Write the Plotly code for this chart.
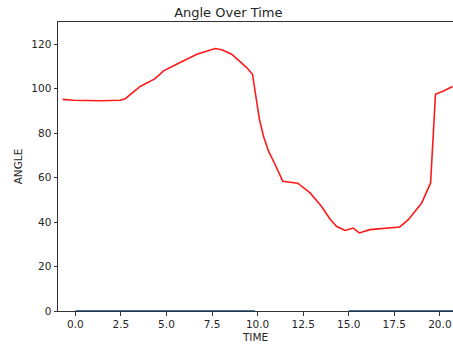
import plotly.graph_objects as go

time = [-0.7, -0.1, 1.37, 2.47, 2.74, 3.56, 4.38, 4.84, 5.75, 6.67, 7.67, 8.04, 8.58, 9.4, 9.72,
        10.1, 10.32, 10.6, 10.96, 11.38, 12.2, 12.88, 13.5, 13.97, 14.34, 14.8, 15.25, 15.58,
        16.16, 17.8, 18.27, 18.8, 19.0, 19.49, 19.76, 20.2, 20.7]
angle = [95.2, 94.8, 94.6, 94.8, 95.5, 101, 104.5, 108, 111.8, 115.5, 118.1, 117.5, 115.5, 109.5, 106.5,
         86.2, 78.7, 71.9, 65.9, 58.4, 57.5, 53.1, 47.1, 41.4, 38.0, 36.2, 37.3, 35.1,
         36.6, 37.8, 41.1, 46.8, 48.6, 57.6, 97.5, 99.0, 101.0]

base_time = [0.0, 9.85, None, 15.0, 20.8]
base_value = [0, 0, None, 0, 0]

x_ticks = [0, 2.5, 5, 7.5, 10, 12.5, 15, 17.5, 20]
x_tick_labels = ["0.0", "2.5", "5.0", "7.5", "10.0", "12.5", "15.0", "17.5", "20.0"]
y_ticks = [0, 20, 40, 60, 80, 100, 120]

fig = go.Figure()
fig.add_trace(go.Scatter(x=base_time, y=base_value, mode="lines",
                         line=dict(color="#3b6fa0", width=2), connectgaps=False,
                         showlegend=False, hoverinfo="skip"))
fig.add_trace(go.Scatter(x=time, y=angle, mode="lines",
                         line=dict(color="#ff1a1a", width=1.6), showlegend=False))

axis_font = dict(family="DejaVu Sans", size=10.5, color="#262626")
fig.update_layout(
    width=453, height=349,
    margin=dict(l=58, r=0, t=22, b=38, autoexpand=False),
    paper_bgcolor="white", plot_bgcolor="white",
    font=dict(family="DejaVu Sans", color="#262626"),
    title=dict(text="Angle Over Time", x=0.504, xanchor="center", y=0.965, yanchor="middle",
               font=dict(family="DejaVu Sans", size=13, color="#262626")),
    xaxis=dict(range=[-0.95, 20.72], tickvals=x_ticks, ticktext=x_tick_labels, automargin=False,
               showgrid=False, zeroline=False, showline=True, linecolor="#333333", linewidth=1,
               mirror=True, ticks="outside", ticklen=3.5, tickcolor="#333333", tickfont=axis_font,
               title=dict(text="TIME", font=dict(family="DejaVu Sans", size=10.5, color="#262626"),
                          standoff=4)),
    yaxis=dict(range=[0, 130], tickvals=y_ticks, showgrid=False, zeroline=False, automargin=False,
               showline=True, linecolor="#333333", linewidth=1, mirror=False,
               ticks="outside", ticklen=3.5, tickcolor="#333333", tickfont=axis_font,
               title=dict(text="ANGLE", font=dict(family="DejaVu Sans", size=10.5, color="#262626"),
                          standoff=6)),
)
fig.write_html("out.html", config={"displayModeBar": False},
               post_script="document.body.style.margin='0';document.body.style.overflow='hidden';")
